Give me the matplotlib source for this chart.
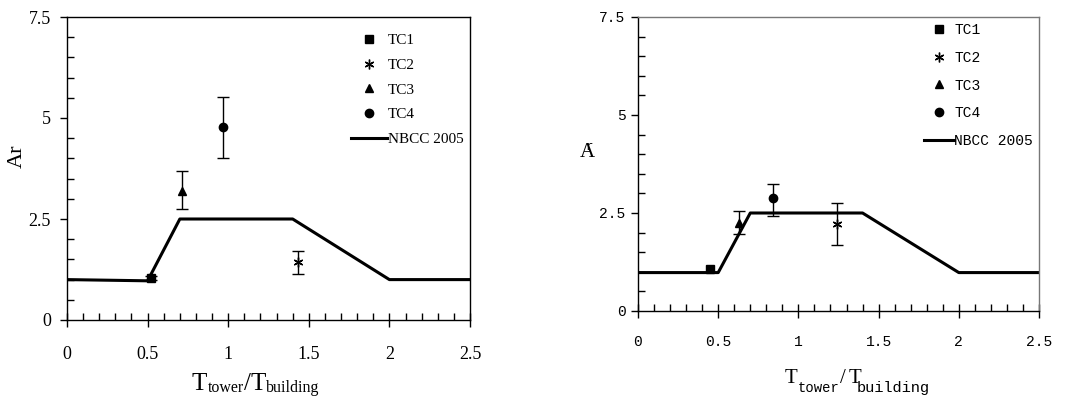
import numpy as np
import matplotlib.pyplot as plt
from matplotlib.ticker import MultipleLocator, FuncFormatter
from matplotlib.transforms import IdentityTransform

# ---- data ----
tc_names = ['TC1', 'TC2', 'TC3', 'TC4']
tc_markers = ['s', (6, 2, 0), '^', 'o']

# left panel
left_x = [0.52, 1.43, 0.715, 0.97]
left_y = [1.05, 1.43, 3.20, 4.77]
left_lo = [1.00, 1.15, 2.74, 4.00]
left_hi = [1.10, 1.72, 3.68, 5.53]
left_nbcc_x = [0, 0.5, 0.7, 1.4, 2.0, 2.5]
left_nbcc_y = [1.0, 0.97, 2.5, 2.5, 1.0, 1.0]

# right panel
right_x = [0.45, 1.24, 0.627, 0.84]
right_y = [1.07, 2.21, 2.24, 2.87]
right_lo = [None, 1.68, 1.97, 2.42]
right_hi = [None, 2.76, 2.55, 3.25]
right_nbcc_x = [0, 0.5, 0.7, 1.4, 2.0, 2.5]
right_nbcc_y = [0.98, 0.98, 2.5, 2.5, 0.98, 0.98]

SERIF = 'Liberation Serif'
MONO = 'Liberation Mono'


def fmt(v, pos):
    return ('%g' % v)


def style_axes(ax, family, size, xpad, ypad, frame_col):
    ax.set_xlim(0, 2.5)
    ax.set_ylim(0, 7.5)
    ax.xaxis.set_major_locator(MultipleLocator(0.5))
    ax.xaxis.set_minor_locator(MultipleLocator(0.1))
    ax.yaxis.set_major_locator(MultipleLocator(2.5))
    ax.yaxis.set_minor_locator(MultipleLocator(0.5))
    ax.xaxis.set_major_formatter(FuncFormatter(fmt))
    ax.yaxis.set_major_formatter(FuncFormatter(fmt))
    ax.tick_params(axis='x', which='major', direction='inout', length=10, width=1, pad=xpad)
    ax.tick_params(axis='x', which='minor', direction='in', length=5, width=1)
    ax.tick_params(axis='y', which='major', direction='out', length=5, width=1, pad=ypad)
    ax.tick_params(axis='y', which='minor', direction='in', length=5, width=1)
    for lab in ax.get_xticklabels() + ax.get_yticklabels():
        lab.set_fontfamily(family)
        lab.set_fontsize(size)
    ax.spines['left'].set_color('black')
    ax.spines['bottom'].set_color('black')
    ax.spines['top'].set_color(frame_col)
    ax.spines['right'].set_color(frame_col)
    for s in ax.spines.values():
        s.set_linewidth(1)


def draw_panel(ax, xs, ys, lo, hi, nx, ny, capsize):
    for i in range(4):
        if lo[i] is not None:
            ax.errorbar([xs[i]], [ys[i]], yerr=[[ys[i] - lo[i]], [hi[i] - ys[i]]],
                        fmt='none', ecolor='black', elinewidth=1, capsize=capsize, capthick=1)
        ax.plot([xs[i]], [ys[i]], linestyle='none', marker=tc_markers[i], color='black',
                markersize=6 if i != 1 else 7, markeredgewidth=1, label=tc_names[i])
    ax.plot(nx, ny, color='black', linewidth=2.2, label='NBCC 2005')


def chain(fig, x0, y0, pieces):
    # pieces: (text, family, size, dy) placed one after the other in pixels
    r = fig.canvas.get_renderer()
    x = x0
    for s, fam, size, dy in pieces:
        t = fig.text(x, y0 + dy, s, family=fam, fontsize=size, transform=IdentityTransform(),
                     ha='left', va='baseline')
        bb = t.get_window_extent(renderer=r)
        x = bb.x1


fig = plt.figure(figsize=(10.81, 3.99), dpi=100)

ax1 = fig.add_axes([67 / 1081, 1 - 320 / 399, 403 / 1081, 303 / 399])
draw_panel(ax1, left_x, left_y, left_lo, left_hi, left_nbcc_x, left_nbcc_y, 4)
style_axes(ax1, SERIF, 13, 14, 6.5, 'black')
ax1.legend(loc='upper right', bbox_to_anchor=(1.0, 0.965), frameon=False,
           prop={'family': SERIF, 'size': 11}, handlelength=2.4, handletextpad=0.05,
           labelspacing=0.72, borderaxespad=0.2, borderpad=0.2)

ax2 = fig.add_axes([638 / 1081, 1 - 311 / 399, 401 / 1081, 294 / 399])
draw_panel(ax2, right_x, right_y, right_lo, right_hi, right_nbcc_x, right_nbcc_y, 4.5)
style_axes(ax2, MONO, 10.5, 12.5, 4, '#777777')
ax2.legend(loc='upper right', bbox_to_anchor=(1.0, 1.0), frameon=False,
           prop={'family': MONO, 'size': 10.5}, handlelength=2.1, handletextpad=0.0,
           labelspacing=0.95, borderaxespad=0.2, borderpad=0.2)

# axis labels
fig.text(17, 399 - 156, 'Ar', family=SERIF, fontsize=16, rotation=90,
         ha='center', va='center', transform=IdentityTransform())
fig.text(580, 399 - 157, 'A', family=SERIF, fontsize=15, ha='left', va='baseline',
         transform=IdentityTransform())
fig.text(586, 399 - 150, 'r', family=MONO, fontsize=9, ha='left', va='baseline',
         transform=IdentityTransform())

chain(fig, 192, 399 - 390, [('T', SERIF, 18, 0), ('tower', SERIF, 11.5, -2),
                             ('/T', SERIF, 18, 0), ('building', SERIF, 11.5, -2)])
chain(fig, 785, 399 - 383, [('T', SERIF, 15, 0), ('tower', MONO, 10, -9)])
chain(fig, 840, 399 - 383, [('/', SERIF, 15, 0)])
chain(fig, 849, 399 - 383, [('T', SERIF, 15, 0)])
chain(fig, 857, 399 - 392, [('building', MONO, 11, 0)])

fig.savefig('out.png', dpi=100)
